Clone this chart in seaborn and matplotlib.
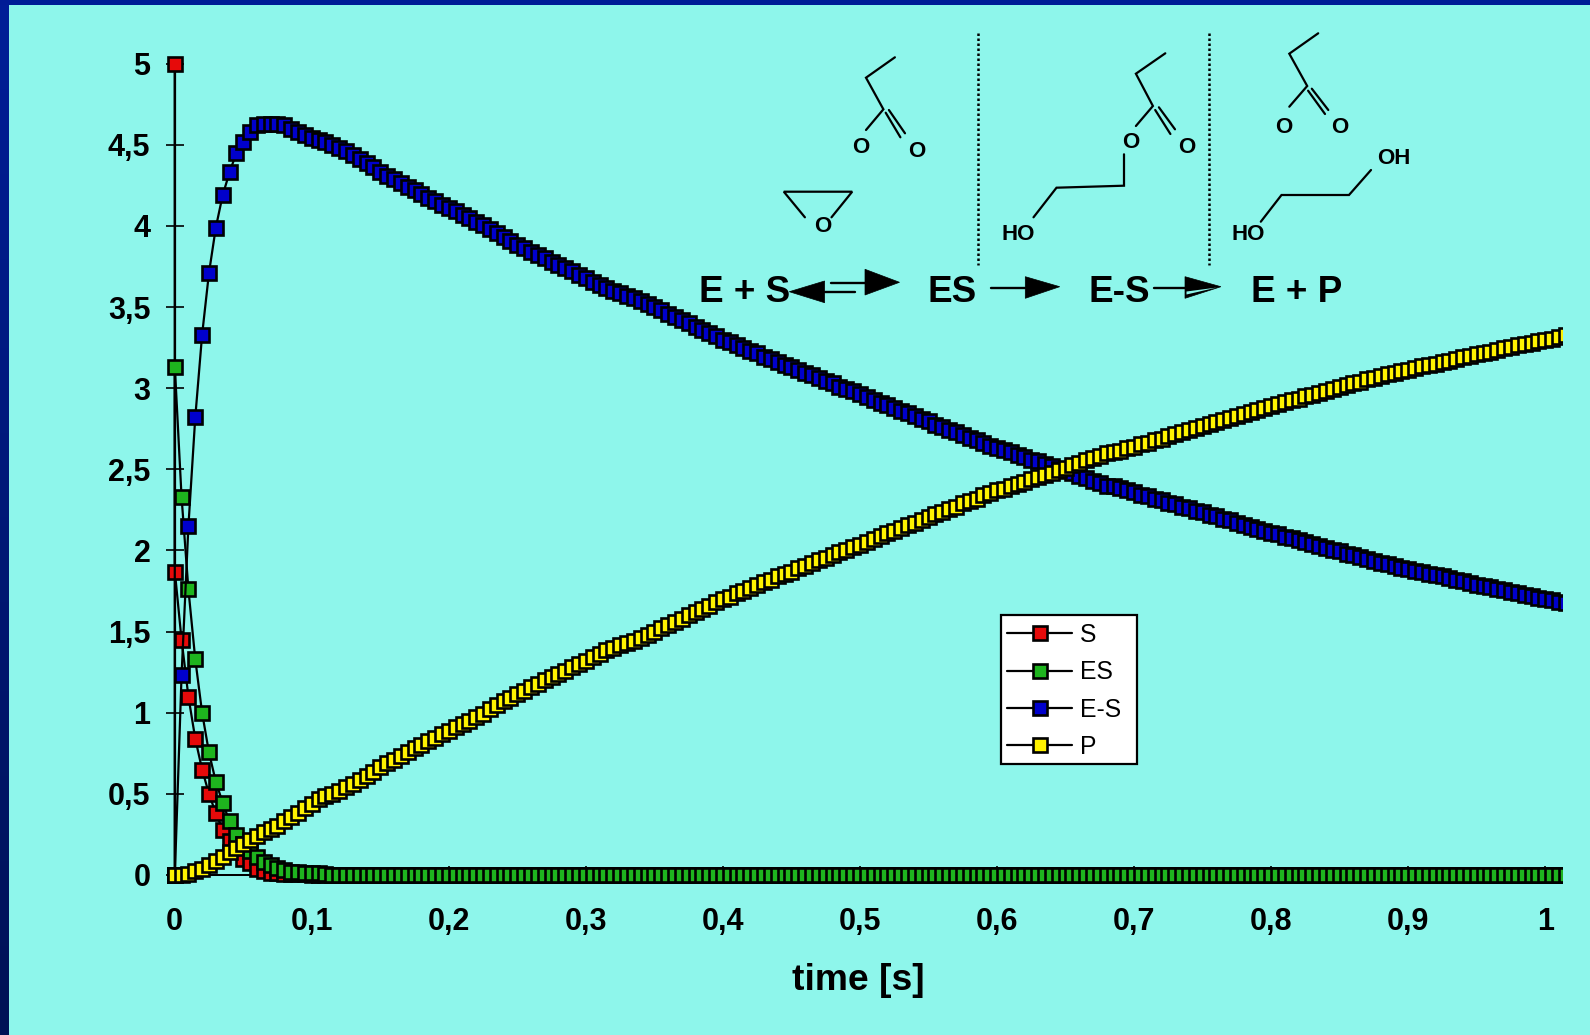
import numpy as np
import pandas as pd
import matplotlib
matplotlib.use("Agg")
import matplotlib.pyplot as plt
import seaborn as sns
from matplotlib.lines import Line2D
from matplotlib.patches import Polygon, Rectangle
from matplotlib.transforms import Bbox

# --- data ---
time_s = [
    0, 0.0001, 0.005, 0.01, 0.015, 0.02, 0.025, 0.03, 0.035, 0.04,
    0.045, 0.05, 0.055, 0.06, 0.065, 0.07, 0.075, 0.08, 0.085, 0.09,
    0.095, 0.1, 0.105, 0.11, 0.115, 0.12, 0.125, 0.13, 0.135, 0.14,
    0.145, 0.15, 0.155, 0.16, 0.165, 0.17, 0.175, 0.18, 0.185, 0.19,
    0.195, 0.2, 0.205, 0.21, 0.215, 0.22, 0.225, 0.23, 0.235, 0.24,
    0.245, 0.25, 0.255, 0.26, 0.265, 0.27, 0.275, 0.28, 0.285, 0.29,
    0.295, 0.3, 0.305, 0.31, 0.315, 0.32, 0.325, 0.33, 0.335, 0.34,
    0.345, 0.35, 0.355, 0.36, 0.365, 0.37, 0.375, 0.38, 0.385, 0.39,
    0.395, 0.4, 0.405, 0.41, 0.415, 0.42, 0.425, 0.43, 0.435, 0.44,
    0.445, 0.45, 0.455, 0.46, 0.465, 0.47, 0.475, 0.48, 0.485, 0.49,
    0.495, 0.5, 0.505, 0.51, 0.515, 0.52, 0.525, 0.53, 0.535, 0.54,
    0.545, 0.55, 0.555, 0.56, 0.565, 0.57, 0.575, 0.58, 0.585, 0.59,
    0.595, 0.6, 0.605, 0.61, 0.615, 0.62, 0.625, 0.63, 0.635, 0.64,
    0.645, 0.65, 0.655, 0.66, 0.665, 0.67, 0.675, 0.68, 0.685, 0.69,
    0.695, 0.7, 0.705, 0.71, 0.715, 0.72, 0.725, 0.73, 0.735, 0.74,
    0.745, 0.75, 0.755, 0.76, 0.765, 0.77, 0.775, 0.78, 0.785, 0.79,
    0.795, 0.8, 0.805, 0.81, 0.815, 0.82, 0.825, 0.83, 0.835, 0.84,
    0.845, 0.85, 0.855, 0.86, 0.865, 0.87, 0.875, 0.88, 0.885, 0.89,
    0.895, 0.9, 0.905, 0.91, 0.915, 0.92, 0.925, 0.93, 0.935, 0.94,
    0.945, 0.95, 0.955, 0.96, 0.965, 0.97, 0.975, 0.98, 0.985, 0.99,
    0.995, 1.0, 1.005, 1.01, 1.015,
]

s_vals = [
    5, 1.87, 1.45, 1.10, 0.84, 0.65, 0.50, 0.38, 0.28, 0.21,
    0.15, 0.10, 0.075, 0.04, 0.025, 0.015, 0.01, 0.008, 0.006, 0.005,
    0.004, 0.003, 0.002, 0.002, 0.001, 0.001, 0, 0, 0, 0,
    0, 0, 0, 0, 0, 0, 0, 0, 0, 0,
    0, 0, 0, 0, 0, 0, 0, 0, 0, 0,
    0, 0, 0, 0, 0, 0, 0, 0, 0, 0,
    0, 0, 0, 0, 0, 0, 0, 0, 0, 0,
    0, 0, 0, 0, 0, 0, 0, 0, 0, 0,
    0, 0, 0, 0, 0, 0, 0, 0, 0, 0,
    0, 0, 0, 0, 0, 0, 0, 0, 0, 0,
    0, 0, 0, 0, 0, 0, 0, 0, 0, 0,
    0, 0, 0, 0, 0, 0, 0, 0, 0, 0,
    0, 0, 0, 0, 0, 0, 0, 0, 0, 0,
    0, 0, 0, 0, 0, 0, 0, 0, 0, 0,
    0, 0, 0, 0, 0, 0, 0, 0, 0, 0,
    0, 0, 0, 0, 0, 0, 0, 0, 0, 0,
    0, 0, 0, 0, 0, 0, 0, 0, 0, 0,
    0, 0, 0, 0, 0, 0, 0, 0, 0, 0,
    0, 0, 0, 0, 0, 0, 0, 0, 0, 0,
    0, 0, 0, 0, 0, 0, 0, 0, 0, 0,
    0, 0, 0, 0, 0,
]

es_vals = [
    0, 3.13, 2.33, 1.76, 1.33, 1.0, 0.755, 0.575, 0.445, 0.33,
    0.245, 0.19, 0.145, 0.113, 0.082, 0.06, 0.045, 0.03, 0.02, 0.016,
    0.015, 0.014, 0.01, 0.005, 0.003, 0.002, 0.001, 0.001, 0, 0,
    0, 0, 0, 0, 0, 0, 0, 0, 0, 0,
    0, 0, 0, 0, 0, 0, 0, 0, 0, 0,
    0, 0, 0, 0, 0, 0, 0, 0, 0, 0,
    0, 0, 0, 0, 0, 0, 0, 0, 0, 0,
    0, 0, 0, 0, 0, 0, 0, 0, 0, 0,
    0, 0, 0, 0, 0, 0, 0, 0, 0, 0,
    0, 0, 0, 0, 0, 0, 0, 0, 0, 0,
    0, 0, 0, 0, 0, 0, 0, 0, 0, 0,
    0, 0, 0, 0, 0, 0, 0, 0, 0, 0,
    0, 0, 0, 0, 0, 0, 0, 0, 0, 0,
    0, 0, 0, 0, 0, 0, 0, 0, 0, 0,
    0, 0, 0, 0, 0, 0, 0, 0, 0, 0,
    0, 0, 0, 0, 0, 0, 0, 0, 0, 0,
    0, 0, 0, 0, 0, 0, 0, 0, 0, 0,
    0, 0, 0, 0, 0, 0, 0, 0, 0, 0,
    0, 0, 0, 0, 0, 0, 0, 0, 0, 0,
    0, 0, 0, 0, 0, 0, 0, 0, 0, 0,
    0, 0, 0, 0, 0,
]

e_s_vals = [
    0, 0, 1.23, 2.15, 2.82, 3.33, 3.71, 3.99, 4.19, 4.33,
    4.45, 4.52, 4.58, 4.62, 4.63, 4.63, 4.63, 4.62, 4.60, 4.58,
    4.56, 4.545, 4.53, 4.515, 4.50, 4.48, 4.46, 4.44, 4.415, 4.39,
    4.365, 4.335, 4.31, 4.29, 4.265, 4.24, 4.22, 4.20, 4.175, 4.155,
    4.13, 4.11, 4.09, 4.07, 4.05, 4.025, 4.005, 3.98, 3.955, 3.93,
    3.91, 3.885, 3.865, 3.84, 3.82, 3.80, 3.78, 3.76, 3.74, 3.72,
    3.70, 3.68, 3.655, 3.635, 3.615, 3.60, 3.585, 3.57, 3.555, 3.54,
    3.52, 3.50, 3.48, 3.46, 3.44, 3.42, 3.40, 3.38, 3.36, 3.34,
    3.32, 3.30, 3.285, 3.265, 3.25, 3.23, 3.215, 3.195, 3.18, 3.16,
    3.145, 3.13, 3.11, 3.095, 3.08, 3.06, 3.045, 3.03, 3.01, 2.995,
    2.98, 2.965, 2.945, 2.93, 2.91, 2.895, 2.88, 2.86, 2.845, 2.83,
    2.81, 2.795, 2.775, 2.76, 2.745, 2.73, 2.71, 2.695, 2.68, 2.66,
    2.645, 2.63, 2.62, 2.605, 2.59, 2.575, 2.56, 2.55, 2.535, 2.52,
    2.505, 2.49, 2.475, 2.46, 2.445, 2.43, 2.415, 2.40, 2.395, 2.385,
    2.37, 2.36, 2.345, 2.335, 2.32, 2.31, 2.295, 2.285, 2.27, 2.26,
    2.245, 2.235, 2.22, 2.21, 2.195, 2.185, 2.17, 2.16, 2.145, 2.135,
    2.12, 2.11, 2.10, 2.085, 2.075, 2.065, 2.05, 2.04, 2.03, 2.015,
    2.005, 1.995, 1.98, 1.97, 1.96, 1.945, 1.935, 1.925, 1.915, 1.905,
    1.895, 1.885, 1.875, 1.865, 1.855, 1.85, 1.84, 1.83, 1.82, 1.81,
    1.80, 1.79, 1.78, 1.775, 1.765, 1.755, 1.745, 1.735, 1.725, 1.72,
    1.71, 1.70, 1.695, 1.685, 1.675,
]

p_vals = [
    0, 0, 0.002, 0.008, 0.022, 0.04, 0.06, 0.085, 0.11, 0.14,
    0.165, 0.19, 0.215, 0.24, 0.265, 0.285, 0.305, 0.335, 0.36, 0.385,
    0.41, 0.435, 0.47, 0.485, 0.50, 0.52, 0.54, 0.56, 0.585, 0.61,
    0.635, 0.665, 0.69, 0.71, 0.735, 0.76, 0.78, 0.80, 0.825, 0.845,
    0.87, 0.89, 0.91, 0.93, 0.95, 0.975, 0.995, 1.02, 1.045, 1.07,
    1.09, 1.115, 1.135, 1.16, 1.18, 1.20, 1.22, 1.24, 1.26, 1.28,
    1.30, 1.32, 1.345, 1.365, 1.385, 1.40, 1.415, 1.43, 1.445, 1.46,
    1.48, 1.50, 1.52, 1.54, 1.56, 1.58, 1.60, 1.62, 1.64, 1.66,
    1.68, 1.70, 1.715, 1.735, 1.75, 1.77, 1.785, 1.805, 1.82, 1.84,
    1.855, 1.87, 1.89, 1.905, 1.92, 1.94, 1.955, 1.97, 1.99, 2.005,
    2.02, 2.035, 2.055, 2.07, 2.09, 2.105, 2.12, 2.14, 2.155, 2.17,
    2.19, 2.205, 2.225, 2.24, 2.255, 2.27, 2.29, 2.305, 2.32, 2.34,
    2.355, 2.37, 2.38, 2.395, 2.41, 2.425, 2.44, 2.45, 2.465, 2.48,
    2.495, 2.51, 2.525, 2.54, 2.555, 2.57, 2.585, 2.60, 2.605, 2.615,
    2.63, 2.64, 2.655, 2.665, 2.68, 2.69, 2.705, 2.715, 2.73, 2.74,
    2.755, 2.765, 2.78, 2.79, 2.805, 2.815, 2.83, 2.84, 2.855, 2.865,
    2.88, 2.89, 2.90, 2.915, 2.925, 2.935, 2.95, 2.96, 2.97, 2.985,
    2.995, 3.005, 3.02, 3.03, 3.04, 3.055, 3.065, 3.075, 3.085, 3.095,
    3.105, 3.115, 3.125, 3.135, 3.145, 3.15, 3.16, 3.17, 3.18, 3.19,
    3.20, 3.21, 3.22, 3.225, 3.235, 3.245, 3.255, 3.265, 3.275, 3.28,
    3.29, 3.30, 3.305, 3.315, 3.325,
]

x_ticks = [0, 0.1, 0.2, 0.3, 0.4, 0.5, 0.6, 0.7, 0.8, 0.9, 1]
x_labels = ["0", "0,1", "0,2", "0,3", "0,4", "0,5", "0,6", "0,7", "0,8", "0,9", "1"]
y_ticks = [0, 0.5, 1, 1.5, 2, 2.5, 3, 3.5, 4, 4.5, 5]
y_labels = ["0", "0,5", "1", "1,5", "2", "2,5", "3", "3,5", "4", "4,5", "5"]

species = ["S", "ES", "E-S", "P"]
species_colors = ["#E60A0A", "#1EB41E", "#0000CC", "#FFF200"]

BG = "#8EF6EB"
W, H = 1590, 1035


def fx(x):
    return x / W


def fy(y):
    return 1 - y / H


df = pd.DataFrame({"time": time_s, "S": s_vals, "ES": es_vals, "E-S": e_s_vals, "P": p_vals})

sns.set_theme(style="white")
plt.rcParams["font.family"] = ["Liberation Sans", "DejaVu Sans"]

fig = plt.figure(figsize=(W / 100, H / 100), dpi=100, facecolor=BG)

# navy border, left side gets darker going down
ax_border = fig.add_axes([0, 0, fx(9), 1], zorder=-2)
grad = np.linspace(0, 1, 256)[:, None, None] * (np.array([0, 18, 85]) - np.array([0, 30, 152])) + np.array([0, 30, 152])
ax_border.imshow(grad.astype(np.uint8), aspect="auto")
ax_border.axis("off")
fig.add_artist(Rectangle((0, fy(5)), 1, 5 / H, transform=fig.transFigure, color="#001C96", lw=0))

# --- chart ---
ax = fig.add_axes([fx(174.7), fy(875), (1561.7 - 174.7) / W, (875 - 63.7) / H], facecolor="none")
ax.set_axisbelow(True)

for name, col in zip(species, species_colors):
    sns.lineplot(data=df, x="time", y=name, ax=ax, color="black", lw=1.6, estimator=None, sort=False,
                 marker="s", markersize=9.6, markerfacecolor=col, markeredgecolor="black",
                 markeredgewidth=1.9, label=name, zorder=3)

# markers go past the axes on the left and top but stop at the right end
for line in ax.lines:
    line.set_clip_box(Bbox([[0, 0], [1561.7, H]]))

ax.set_xlim(0, 1387 / 1370.6)
ax.set_ylim(0, 5)
sns.despine(ax=ax)
ax.spines["left"].set_color("black")
ax.spines["bottom"].set_color("black")
ax.spines["left"].set_linewidth(1.6)
ax.spines["bottom"].set_linewidth(1.45)
ax.set_xticks(x_ticks, x_labels, fontsize=22, fontweight="bold", color="black")
ax.set_yticks(y_ticks, y_labels, fontsize=22, fontweight="bold", color="black")
ax.tick_params(axis="both", direction="inout", length=13, width=1.2, color="black", left=True, bottom=True)
ax.tick_params(axis="y", pad=11)
ax.tick_params(axis="x", pad=16.5)
ax.set_xlabel("time [s]", fontsize=26.8, fontweight="bold", color="black")
ax.xaxis.set_label_coords((858 - 174.7) / 1387, -(981 - 875) / 811.3, transform=ax.transAxes)
ax.xaxis.label.set_va("center")
ax.set_ylabel("")

# legend: box drawn on its own so the side margins can differ
handles, labels = ax.get_legend_handles_labels()
ax.get_legend().remove()
box = Rectangle((fx(1000.7), fy(764.3)), 136 / W, 149.3 / H, transform=fig.transFigure,
                facecolor="white", edgecolor="black", lw=1.6, zorder=4)
fig.add_artist(box)
leg = fig.legend(handles, labels, loc="upper left", bbox_to_anchor=(fx(1000.7), fy(616.5)), frameon=False,
                 fontsize=17.8, labelspacing=0.545, handlelength=2.65, handletextpad=0.31,
                 borderpad=0.25, borderaxespad=0, labelcolor="black")
leg.set_zorder(5)

# --- reaction scheme, pixel positions from the reference ---
bond_lines = [
    # propionate, left
    [(894.9, 57.3), (866, 77.7), (883.4, 109.3), (866, 130)],
    [(885.7, 112.7), (900.4, 137.3)],
    [(888.9, 110), (905, 133.3)],
    # epoxide
    [(804.9, 217.3), (783.8, 191.7), (852.2, 191.7), (831.5, 217.3)],
    # ester
    [(1165.3, 53.3), (1135.9, 73.7), (1152.9, 106), (1135.9, 126)],
    [(1155.2, 110), (1170.4, 134)],
    [(1158.9, 107.3), (1175, 129.3)],
    [(1124, 154.3), (1124, 185.7), (1056.5, 187.7), (1033.5, 217.3)],
    # acid and diol, right
    [(1318.2, 33.3), (1289.3, 53.7), (1307.2, 86), (1289.3, 106.7)],
    [(1308.1, 90.7), (1325, 114)],
    [(1311.8, 88.7), (1328.3, 110)],
    [(1371, 170), (1349, 195), (1281.5, 195), (1260.8, 221.7)],
]
atom_labels = [
    ("O", 860.4, 147.5), ("O", 916.5, 151.5), ("O", 822.3, 227),
    ("O", 1130.4, 143), ("O", 1186.4, 147.5), ("HO", 1018.4, 234.5),
    ("O", 1283.3, 127), ("O", 1339.3, 127), ("OH", 1394, 159), ("HO", 1248.4, 234.5),
]
scheme_labels = [("E + S", 744.7, 293), ("ES", 952.4, 293), ("E-S", 1119.6, 293), ("E + P", 1296.8, 293)]
arrow_shafts = [
    [(830.6, 283), (865, 283)],
    [(824.6, 291.7), (855.4, 291.7)],
    [(990.8, 287.7), (1025.3, 287.7)],
    [(1154.3, 287.7), (1185, 287.7)],
]
arrow_heads = [
    [(865, 269.3), (899.5, 282.3), (865, 295)],
    [(824.6, 281), (789.3, 291.7), (824.6, 302.7)],
    [(1025.3, 276.7), (1059.7, 286.7), (1025.3, 298.3)],
    [(1185, 276.7), (1220.9, 286.7), (1185, 298.3)],
]
head_slit = [(1186.5, 294.5), (1217, 287.5), (1186.5, 291.5)]

for seg in bond_lines:
    xs, ys = zip(*seg)
    fig.add_artist(Line2D([fx(v) for v in xs], [fy(v) for v in ys], color="black", lw=1.6,
                          solid_joinstyle="miter", transform=fig.transFigure))

for x_pos in [978, 1209]:
    fig.add_artist(Line2D([fx(x_pos), fx(x_pos)], [fy(33), fy(265)], color="black", lw=1.8,
                          ls=(0, (1, 1)), transform=fig.transFigure))

for seg in arrow_shafts:
    xs, ys = zip(*seg)
    fig.add_artist(Line2D([fx(v) for v in xs], [fy(v) for v in ys], color="black", lw=1.7,
                          transform=fig.transFigure))

for head in arrow_heads:
    fig.add_artist(Polygon([(fx(a), fy(b)) for a, b in head], closed=True, facecolor="black",
                           edgecolor="black", lw=0.5, transform=fig.transFigure))
fig.add_artist(Polygon([(fx(a), fy(b)) for a, b in head_slit], closed=True, facecolor=BG,
                       edgecolor="none", transform=fig.transFigure, zorder=2))

for txt, x_pos, y_pos in atom_labels:
    fig.text(fx(x_pos), fy(y_pos), txt, fontsize=16, fontweight="bold", color="black", ha="center", va="center")

for txt, x_pos, y_pos in scheme_labels:
    fig.text(fx(x_pos), fy(y_pos), txt, fontsize=26.6, fontweight="bold", color="black", ha="center", va="center")

fig.savefig("out.png", dpi=100, facecolor=fig.get_facecolor())
